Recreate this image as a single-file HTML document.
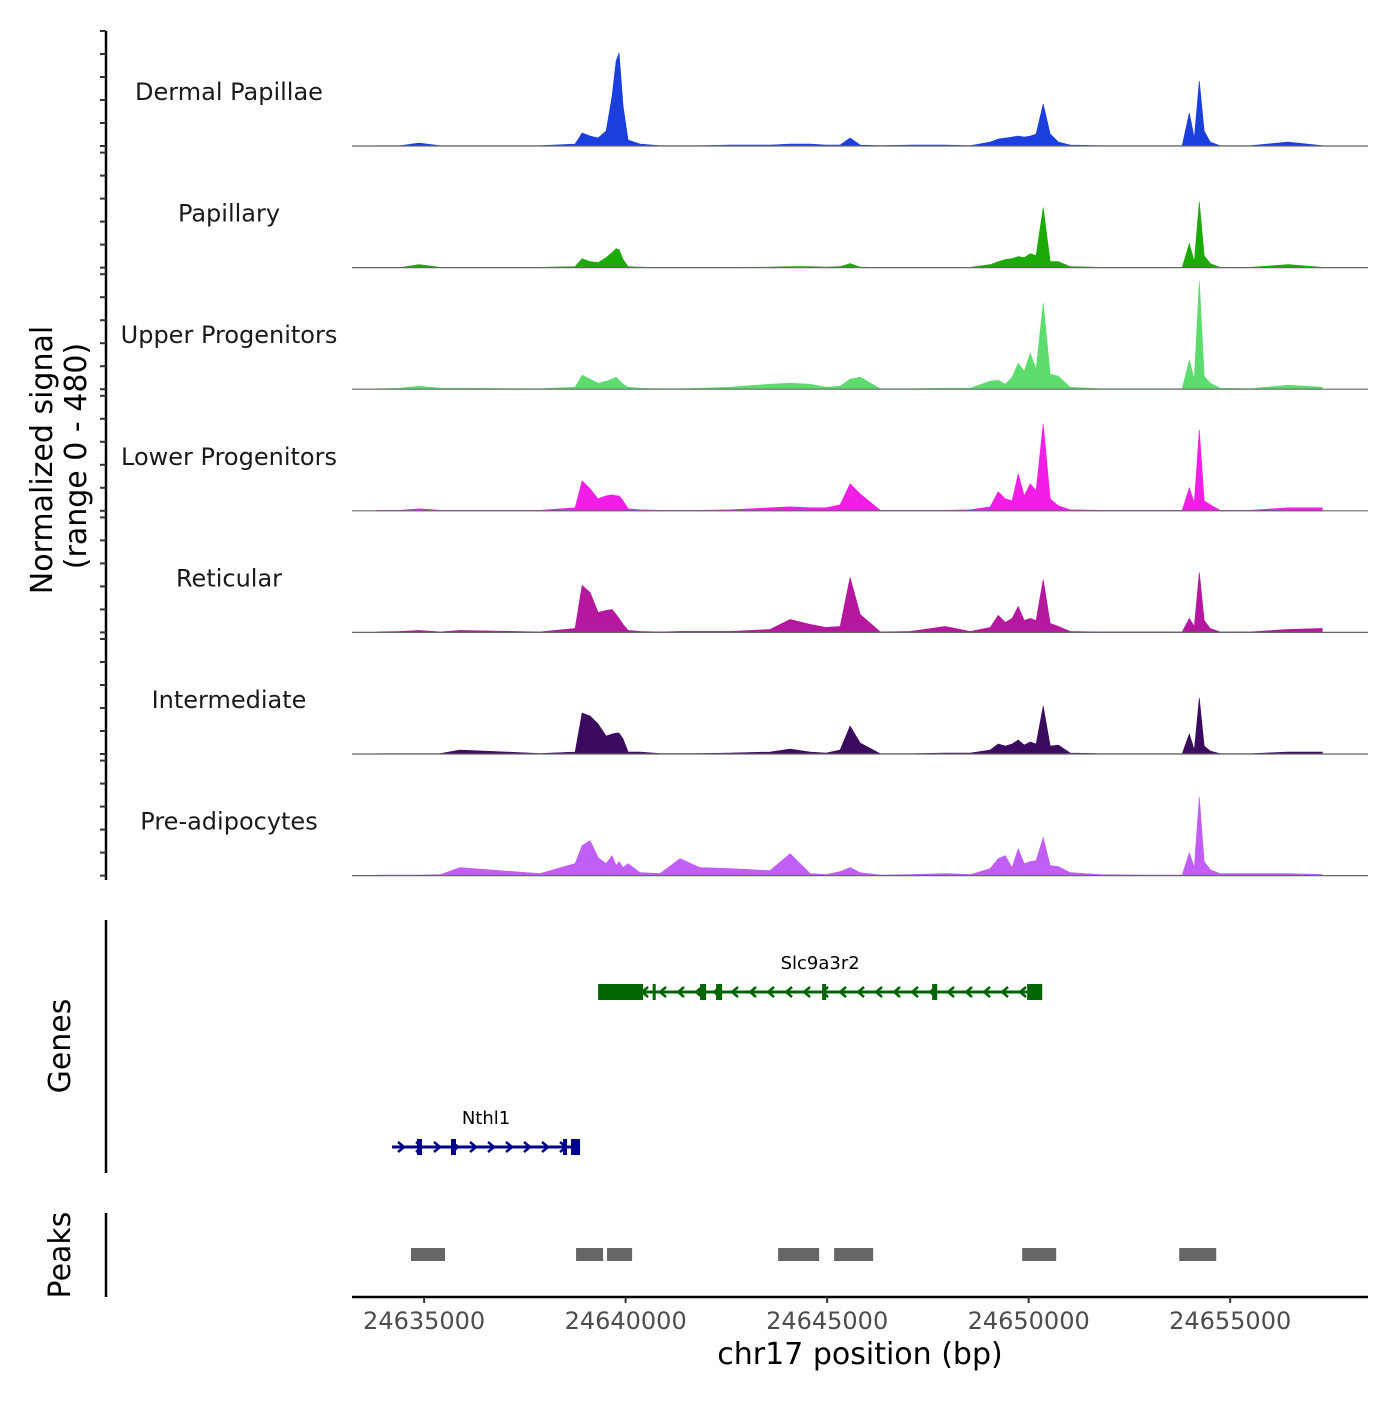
<!DOCTYPE html>
<html><head><meta charset="utf-8"><style>
html,body{margin:0;padding:0;background:#fff;}
svg text{font-family:"DejaVu Sans","Liberation Sans",sans-serif;}
</style></head><body>
<svg id="c" width="1400" height="1400" viewBox="0 0 1400 1400" xmlns="http://www.w3.org/2000/svg">
<text x="0" y="0" transform="translate(52,460) rotate(-90)" text-anchor="middle" font-size="30" fill="#000">Normalized signal</text>
<text x="0" y="0" transform="translate(86,456) rotate(-90)" text-anchor="middle" font-size="30" fill="#000">(range 0 - 480)</text>
<text x="0" y="0" transform="translate(70,1046) rotate(-90)" text-anchor="middle" font-size="30" fill="#000">Genes</text>
<text x="0" y="0" transform="translate(70,1255) rotate(-90)" text-anchor="middle" font-size="30" fill="#000">Peaks</text>
<text x="860" y="1364" text-anchor="middle" font-size="30" fill="#000">chr17 position (bp)</text>
</svg>
<script>
const trackNames = ["Dermal Papillae","Papillary","Upper Progenitors","Lower Progenitors","Reticular","Intermediate","Pre-adipocytes"];
const trackColors = ["#1a3fdc","#1caa06","#5cdc6c","#f11ee6","#b5189f","#3a0b5e","#c05ef6"];
const positions = [24633830,24634400,24634873,24635400,24635890,24637876,24638745,24638919,24639117,24639316,24639514,24639663,24639763,24639837,24639936,24640060,24640358,24640850,24641350,24641847,24642590,24643585,24644080,24644580,24644975,24645320,24645570,24645820,24646315,24647060,24647930,24648550,24649045,24649245,24649420,24649590,24649740,24649890,24650040,24650185,24650360,24650535,24650735,24651030,24651775,24653015,24653810,24653985,24654110,24654235,24654355,24654505,24654750,24655500,24656440,24657285];
const sigDermal = [0.3,0.3,3,0.3,0.3,0.3,2,13,10,8,15,50,85,93,40,6,2,0.3,0.3,0.3,1,1,2,2,1,1,8,1,0.3,1,1,0.3,4,7,8,9,10,9,10,12,42,12,4,1,0.3,0.3,0.5,33,8,65,15,4,0.3,0.3,4,0.3];
const sigPapillary = [0,0,3,0.3,0.3,0.3,1,9,6,5,10,15,19,18,8,1,0.5,0,0,0.3,0.3,0.5,1,1,0.5,1,4,0.5,0,0.3,0.3,0.3,3,6,8,9,11,10,14,12,60,6,6,1,0.3,0.3,0.3,24,6,66,12,4,0.3,0.3,3,0.3];
const sigUpper = [0.5,1,3,1,1,0.5,2,14,10,6,8,10,12,9,5,2,1,0.5,0.5,1,2,5,6,5,2,3,10,12,0.5,0.5,1,1,8,9,5,12,26,18,36,20,86,15,13,2,0.5,0.5,0.5,29,10,108,13,6,1,0.5,4,2];
const sigLower = [0.5,0.5,2,0.5,0.5,0.5,3,30,22,12,15,16,15,15,10,2,1,0.5,0.5,0.5,1,3,4,3,3,6,27,17,0.5,0.5,0.5,1,4,19,12,10,37,15,27,20,87,12,5,1,0.5,0.5,0.5,23,8,81,10,6,0.5,0.5,3,3];
const sigReticular = [0.5,1,2,0.5,2,0.5,4,47,40,20,22,23,18,14,8,2,1,0.5,1,1,1,3,13,8,5,6,55,18,0.5,1,6,1,5,17,10,14,26,12,14,12,53,9,6,1,0.5,0.5,0.5,14,6,60,12,4,0.5,0.5,3,4];
const sigIntermediate = [0.3,0.3,0.3,0.5,4,0.5,2,41,38,30,18,20,21,21,15,2,2,0.5,0.5,0.5,1,2,5,2,1,4,28,11,0.3,0.3,1,1,4,10,8,10,14,9,12,10,48,8,9,1,0.3,0.3,0.3,20,4,56,8,3,0.3,0.3,2,2];
const sigPreadipo = [0.5,0.5,0.5,1,8,2,12,30,35,18,12,20,10,14,8,12,3,2,17,8,7,5,22,2,1,4,8,3,0.5,1,2,1,7,17,20,8,27,12,14,15,38,10,9,3,1,0.5,0.5,23,8,79,14,6,2,2,2,1];
const signals = [sigDermal,sigPapillary,sigUpper,sigLower,sigReticular,sigIntermediate,sigPreadipo];
const xTicks = [24635000,24640000,24645000,24650000,24655000];
const peakStarts = [24634674,24638770,24639539,24643783,24645173,24649839,24653736];
const peakEnds = [24635518,24639440,24640160,24644801,24646141,24650683,24654654];
const geneNames = ["Slc9a3r2","Nthl1"];
const geneStarts = [24639316,24634203];
const geneEnds = [24650336,24638869];
const geneStrands = [-1,1];
const geneExonStarts = [[24639316,24640671,24641847,24642244,24644875,24647606,24649963],[24634823,24635667,24638447,24638645]];
const geneExonEnds = [[24640433,24640720,24641996,24642393,24644975,24647730,24650336],[24634947,24635791,24638546,24638869]];

const NS="http://www.w3.org/2000/svg";
const svg=document.getElementById('c');
const X0=352,X1=1368,D0=24633210,D1=24658420;
function xs(bp){return X0+(bp-D0)/(D1-D0)*(X1-X0);}
const yMax=115, panelH=115, firstTop=31, step=121.6;
function ys(v,i){const base=firstTop+i*step+panelH;return base-v/yMax*panelH;}
function mk(tag,attrs){const e=document.createElementNS(NS,tag);for(const k in attrs)e.setAttribute(k,attrs[k]);svg.appendChild(e);return e;}

let ax=mk('line',{x1:106,x2:106,y1:31,y2:880,stroke:'#000','stroke-width':2.5});


for(let i=0;i<7;i++){
  for(let k=0;k<=5;k++){
    const y=firstTop+i*step+panelH*k/5;
    const t=mk('line',{x1:100,x2:106,y1:y,y2:y,stroke:'#333','stroke-width':2});
    
    
  }
}
for(let i=0;i<7;i++){
  const vals=signals[i];
  let d='M'+xs(positions[0]).toFixed(1)+','+ys(0,i).toFixed(1);
  for(let j=0;j<positions.length;j++){d+=' L'+xs(positions[j]).toFixed(1)+','+ys(vals[j],i).toFixed(1);}
  d+=' L'+xs(positions[positions.length-1]).toFixed(1)+','+ys(0,i).toFixed(1)+' Z';
  const p=mk('path',{d:d,fill:trackColors[i],stroke:trackColors[i],'stroke-width':0.6});
  
  
  const b=ys(0,i);
  const bl=mk('line',{x1:X0,x2:X1,y1:b,y2:b,stroke:'#666','stroke-width':1.2});
  
  
  const lb=mk('text',{x:229,y:firstTop+i*step+69,'text-anchor':'middle','font-size':24,fill:'#1a1a1a'});
  lb.textContent=trackNames[i];
  
  
}
let ga=mk('line',{x1:106,x2:106,y1:920,y2:1173,stroke:'#000','stroke-width':2.5});


const geneY=[992,1147], geneCol=['#006400','#00008b'];
for(let g=0;g<2;g++){
  const y=geneY[g],c=geneCol[g];
  const l=mk('line',{x1:xs(geneStarts[g]),x2:xs(geneEnds[g]),y1:y,y2:y,stroke:c,'stroke-width':3});
  
  
  for(let x=xs(geneStarts[g])+10;x<xs(geneEnds[g])-6;x+=18){
    const s=geneStrands[g];
    const ch=mk('polyline',{points:(x-4*s)+','+(y-5)+' '+(x+2*s)+','+y+' '+(x-4*s)+','+(y+5),fill:'none',stroke:c,'stroke-width':2.5});
    
    
  }
  for(let e=0;e<geneExonStarts[g].length;e++){
    const x1=xs(geneExonStarts[g][e]),x2=xs(geneExonEnds[g][e]);
    const r=mk('rect',{x:x1,y:y-8,width:Math.max(3,x2-x1),height:16,fill:c});
    
    
  }
  const t=mk('text',{x:(xs(geneStarts[g])+xs(geneEnds[g]))/2,y:y-23,'text-anchor':'middle','font-size':18,fill:'#000'});
  t.textContent=geneNames[g];
  
  
}
let pa=mk('line',{x1:106,x2:106,y1:1213,y2:1297,stroke:'#000','stroke-width':2.5});


for(let k=0;k<peakStarts.length;k++){
  const r=mk('rect',{x:xs(peakStarts[k]),y:1248,width:xs(peakEnds[k])-xs(peakStarts[k]),height:13,fill:'#666'});
  
  
}
let xa=mk('line',{x1:X0,x2:X1,y1:1297,y2:1297,stroke:'#000','stroke-width':2.5});


for(const t of xTicks){
  const x=xs(t);
  const tk=mk('line',{x1:x,x2:x,y1:1297,y2:1303,stroke:'#333','stroke-width':2});
  
  
  const tl=mk('text',{x:x,y:1329,'text-anchor':'middle','font-size':24,fill:'#4d4d4d'});
  tl.textContent=String(t);
  
  
}
</script>
</body></html>
